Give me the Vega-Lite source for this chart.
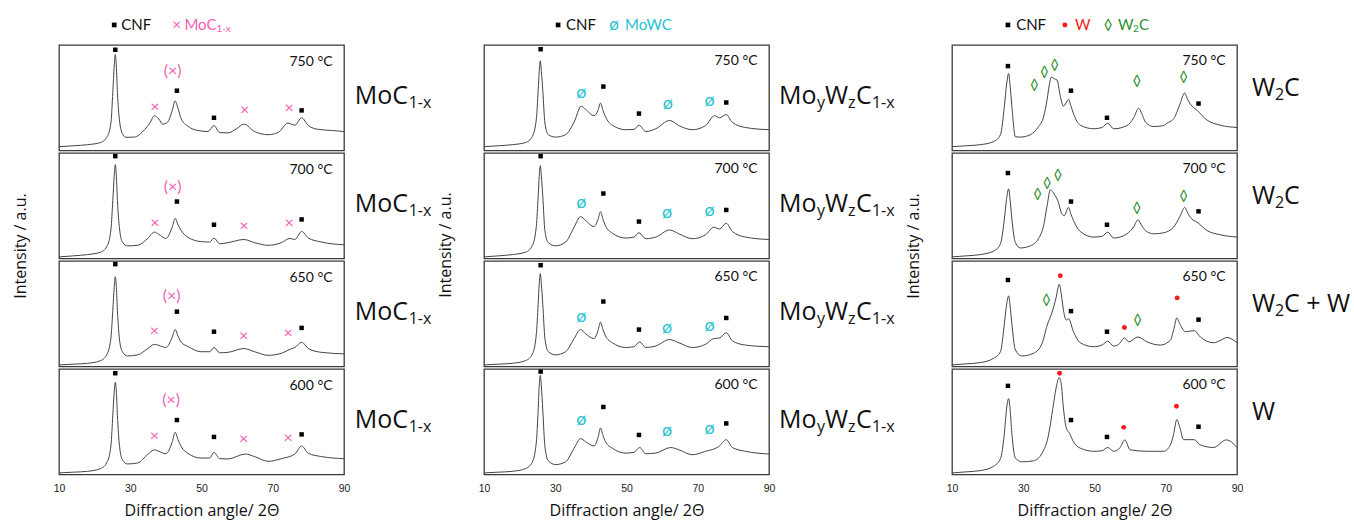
{
"$schema": "https://vega.github.io/schema/vega-lite/v6.json",
"padding": {"left": 12, "top": 15, "right": 0, "bottom": 3},
"autosize": {"type": "pad"},
"background": "white",
"config": {
 "font": "Lato",
 "view": {"stroke": "#3a3a3a", "strokeWidth": 1.3},
 "axis": {"grid": false, "domain": false, "ticks": false, "labelFont": "Liberation Sans", "labelFontSize": 10.5, "labelColor": "#222", "labelPadding": 7, "labelOverlap": false, "labelSeparation": -20, "labelBound": false, "labelFlush": false, "titleFont": "Open Sans", "titleFontSize": 16, "titleFontWeight": "normal", "titleColor": "#111", "titlePadding": 9},
 "header": {"labels": false, "titleFont": "Open Sans", "titleFontSize": 16, "titleFontWeight": "normal", "titleColor": "#111", "titleOrient": "left", "titlePadding": 17},
 "text": {"font": "Lato", "baseline": "middle"}
},
"datasets": {
"A": [
{"k":"T","t":750,"txt":"750 °C"},{"k":"T","t":700,"txt":"700 °C"},{"k":"T","t":650,"txt":"650 °C"},{"k":"T","t":600,"txt":"600 °C"},
{"k":"c","t":750,"x":10,"y":3.6},{"k":"c","t":750,"x":14,"y":4.5},{"k":"c","t":750,"x":18,"y":5.5},{"k":"c","t":750,"x":21.7,"y":7.6},{"k":"c","t":750,"x":23.6,"y":13.6},{"k":"c","t":750,"x":24.6,"y":27},{"k":"c","t":750,"x":25.1,"y":55},{"k":"c","t":750,"x":25.5,"y":80},{"k":"c","t":750,"x":25.8,"y":91},{"k":"c","t":750,"x":26.1,"y":80},{"k":"c","t":750,"x":26.4,"y":55},{"k":"c","t":750,"x":27,"y":28},{"k":"c","t":750,"x":27.8,"y":16},{"k":"c","t":750,"x":28.8,"y":12.5},{"k":"c","t":750,"x":31.1,"y":12.7},{"k":"c","t":750,"x":34,"y":19.7},{"k":"c","t":750,"x":35.5,"y":26},{"k":"c","t":750,"x":36.8,"y":33},{"k":"c","t":750,"x":38,"y":30},{"k":"c","t":750,"x":39.1,"y":25},{"k":"c","t":750,"x":40.5,"y":27},{"k":"c","t":750,"x":41.8,"y":38},{"k":"c","t":750,"x":42.6,"y":47},{"k":"c","t":750,"x":43.4,"y":40},{"k":"c","t":750,"x":44.3,"y":30},{"k":"c","t":750,"x":46.2,"y":23},{"k":"c","t":750,"x":49,"y":19},{"k":"c","t":750,"x":51.8,"y":18},{"k":"c","t":750,"x":53.5,"y":23.6},{"k":"c","t":750,"x":55.1,"y":17},{"k":"c","t":750,"x":57.4,"y":16.7},{"k":"c","t":750,"x":60,"y":21},{"k":"c","t":750,"x":61.9,"y":25},{"k":"c","t":750,"x":64.9,"y":18},{"k":"c","t":750,"x":68.7,"y":15},{"k":"c","t":750,"x":71.5,"y":17},{"k":"c","t":750,"x":74.3,"y":26},{"k":"c","t":750,"x":76.2,"y":24},{"k":"c","t":750,"x":78.1,"y":31},{"k":"c","t":750,"x":80,"y":23.6},{"k":"c","t":750,"x":82.8,"y":20},{"k":"c","t":750,"x":86.5,"y":19},{"k":"c","t":750,"x":90,"y":18},
{"k":"c","t":700,"x":10,"y":1.5},{"k":"c","t":700,"x":14,"y":2.5},{"k":"c","t":700,"x":18,"y":3.7},{"k":"c","t":700,"x":21.7,"y":6},{"k":"c","t":700,"x":23.6,"y":12.5},{"k":"c","t":700,"x":24.6,"y":28},{"k":"c","t":700,"x":25.1,"y":55},{"k":"c","t":700,"x":25.5,"y":78},{"k":"c","t":700,"x":25.8,"y":89},{"k":"c","t":700,"x":26.1,"y":78},{"k":"c","t":700,"x":26.4,"y":55},{"k":"c","t":700,"x":27,"y":28},{"k":"c","t":700,"x":27.8,"y":15.6},{"k":"c","t":700,"x":29.2,"y":12},{"k":"c","t":700,"x":32.1,"y":12.5},{"k":"c","t":700,"x":34.9,"y":19},{"k":"c","t":700,"x":36.8,"y":25},{"k":"c","t":700,"x":38,"y":23},{"k":"c","t":700,"x":40,"y":19},{"k":"c","t":700,"x":41.8,"y":30},{"k":"c","t":700,"x":42.6,"y":38},{"k":"c","t":700,"x":43.4,"y":32},{"k":"c","t":700,"x":44.3,"y":26.5},{"k":"c","t":700,"x":46.2,"y":20},{"k":"c","t":700,"x":49.9,"y":16},{"k":"c","t":700,"x":52.3,"y":15.6},{"k":"c","t":700,"x":53.5,"y":19.4},{"k":"c","t":700,"x":55.1,"y":14},{"k":"c","t":700,"x":57.4,"y":15},{"k":"c","t":700,"x":61.9,"y":18},{"k":"c","t":700,"x":64.9,"y":15},{"k":"c","t":700,"x":68.7,"y":12.5},{"k":"c","t":700,"x":72.4,"y":15},{"k":"c","t":700,"x":74.8,"y":19},{"k":"c","t":700,"x":76.2,"y":18},{"k":"c","t":700,"x":78.1,"y":25.6},{"k":"c","t":700,"x":80,"y":19.4},{"k":"c","t":700,"x":83.7,"y":15.6},{"k":"c","t":700,"x":90,"y":13},
{"k":"c","t":650,"x":10,"y":1.5},{"k":"c","t":650,"x":14,"y":2.2},{"k":"c","t":650,"x":18,"y":3},{"k":"c","t":650,"x":21.7,"y":5.6},{"k":"c","t":650,"x":23.6,"y":12.5},{"k":"c","t":650,"x":24.6,"y":28},{"k":"c","t":650,"x":25.1,"y":53},{"k":"c","t":650,"x":25.5,"y":75},{"k":"c","t":650,"x":25.8,"y":85},{"k":"c","t":650,"x":26.1,"y":75},{"k":"c","t":650,"x":26.4,"y":53},{"k":"c","t":650,"x":27,"y":25},{"k":"c","t":650,"x":27.8,"y":14},{"k":"c","t":650,"x":29.2,"y":10},{"k":"c","t":650,"x":32.1,"y":11},{"k":"c","t":650,"x":34.9,"y":17},{"k":"c","t":650,"x":36.8,"y":21},{"k":"c","t":650,"x":38,"y":20},{"k":"c","t":650,"x":40,"y":18},{"k":"c","t":650,"x":41.8,"y":28},{"k":"c","t":650,"x":42.6,"y":35},{"k":"c","t":650,"x":43.4,"y":29},{"k":"c","t":650,"x":44.3,"y":23},{"k":"c","t":650,"x":46.2,"y":19},{"k":"c","t":650,"x":49.9,"y":14},{"k":"c","t":650,"x":52.3,"y":14},{"k":"c","t":650,"x":53.5,"y":18},{"k":"c","t":650,"x":55.1,"y":13},{"k":"c","t":650,"x":57.4,"y":13.4},{"k":"c","t":650,"x":61.9,"y":17},{"k":"c","t":650,"x":64.9,"y":14},{"k":"c","t":650,"x":68.7,"y":10.6},{"k":"c","t":650,"x":72.4,"y":12.5},{"k":"c","t":650,"x":75.3,"y":17},{"k":"c","t":650,"x":76.2,"y":18},{"k":"c","t":650,"x":78.1,"y":23},{"k":"c","t":650,"x":80,"y":17},{"k":"c","t":650,"x":83.7,"y":13.4},{"k":"c","t":650,"x":90,"y":12},
{"k":"c","t":600,"x":10,"y":1.5},{"k":"c","t":600,"x":14,"y":2.2},{"k":"c","t":600,"x":18,"y":3},{"k":"c","t":600,"x":21.7,"y":5.6},{"k":"c","t":600,"x":23.6,"y":12.5},{"k":"c","t":600,"x":24.6,"y":28},{"k":"c","t":600,"x":25.1,"y":56},{"k":"c","t":600,"x":25.5,"y":78},{"k":"c","t":600,"x":25.8,"y":87.5},{"k":"c","t":600,"x":26.1,"y":78},{"k":"c","t":600,"x":26.4,"y":56},{"k":"c","t":600,"x":27,"y":26.5},{"k":"c","t":600,"x":27.8,"y":14},{"k":"c","t":600,"x":29.2,"y":10},{"k":"c","t":600,"x":32.1,"y":11},{"k":"c","t":600,"x":34.9,"y":19},{"k":"c","t":600,"x":36.8,"y":23.4},{"k":"c","t":600,"x":38,"y":22},{"k":"c","t":600,"x":40,"y":19.7},{"k":"c","t":600,"x":41.8,"y":31},{"k":"c","t":600,"x":42.6,"y":40},{"k":"c","t":600,"x":43.4,"y":33},{"k":"c","t":600,"x":44.3,"y":26.5},{"k":"c","t":600,"x":46.2,"y":20},{"k":"c","t":600,"x":49.9,"y":15.6},{"k":"c","t":600,"x":52.3,"y":15.6},{"k":"c","t":600,"x":53.5,"y":21},{"k":"c","t":600,"x":55.1,"y":15},{"k":"c","t":600,"x":57.4,"y":14.7},{"k":"c","t":600,"x":62.3,"y":19.4},{"k":"c","t":600,"x":64.9,"y":17},{"k":"c","t":600,"x":68.7,"y":12.5},{"k":"c","t":600,"x":72.4,"y":15},{"k":"c","t":600,"x":76.2,"y":19.4},{"k":"c","t":600,"x":78.1,"y":27},{"k":"c","t":600,"x":80,"y":20},{"k":"c","t":600,"x":83.7,"y":17},{"k":"c","t":600,"x":90,"y":15},
{"k":"m","t":750,"g":"CNF","x":25.8,"y":95.5},{"k":"m","t":750,"g":"MoCp","x":41.9,"y":75},{"k":"m","t":750,"g":"CNF","x":43.1,"y":56.7},{"k":"m","t":750,"g":"MoC","x":36.9,"y":41.5},{"k":"m","t":750,"g":"CNF","x":53.5,"y":31},{"k":"m","t":750,"g":"MoC","x":62.1,"y":38},{"k":"m","t":750,"g":"MoC","x":74.6,"y":40},{"k":"m","t":750,"g":"CNF","x":78.1,"y":38},
{"k":"m","t":700,"g":"CNF","x":25.8,"y":97},{"k":"m","t":700,"g":"MoCp","x":41.9,"y":68},{"k":"m","t":700,"g":"CNF","x":43.1,"y":54},{"k":"m","t":700,"g":"MoC","x":36.9,"y":34},{"k":"m","t":700,"g":"CNF","x":53.5,"y":32},{"k":"m","t":700,"g":"MoC","x":61.9,"y":30.6},{"k":"m","t":700,"g":"MoC","x":74.6,"y":34},{"k":"m","t":700,"g":"CNF","x":78.1,"y":37},
{"k":"m","t":650,"g":"CNF","x":25.8,"y":97},{"k":"m","t":650,"g":"MoCp","x":41.6,"y":67},{"k":"m","t":650,"g":"CNF","x":43.1,"y":52},{"k":"m","t":650,"g":"MoC","x":36.8,"y":33.4},{"k":"m","t":650,"g":"CNF","x":53.5,"y":33},{"k":"m","t":650,"g":"MoC","x":61.8,"y":29},{"k":"m","t":650,"g":"MoC","x":74.3,"y":32},{"k":"m","t":650,"g":"CNF","x":78.1,"y":36.6},
{"k":"m","t":600,"g":"CNF","x":25.8,"y":96},{"k":"m","t":600,"g":"MoCp","x":41.5,"y":71},{"k":"m","t":600,"g":"CNF","x":43.1,"y":51.6},{"k":"m","t":600,"g":"MoC","x":36.8,"y":36.6},{"k":"m","t":600,"g":"CNF","x":53.5,"y":35.6},{"k":"m","t":600,"g":"MoC","x":61.8,"y":33.4},{"k":"m","t":600,"g":"MoC","x":74.3,"y":35},{"k":"m","t":600,"g":"CNF","x":78.1,"y":38}
],
"B": [
{"k":"T","t":750,"txt":"750 °C"},{"k":"T","t":700,"txt":"700 °C"},{"k":"T","t":650,"txt":"650 °C"},{"k":"T","t":600,"txt":"600 °C"},
{"k":"c","t":750,"x":10,"y":3.6},{"k":"c","t":750,"x":14,"y":4.5},{"k":"c","t":750,"x":17.95,"y":5.5},{"k":"c","t":750,"x":21.7,"y":7.6},{"k":"c","t":750,"x":23.6,"y":13.6},{"k":"c","t":750,"x":24.7,"y":30},{"k":"c","t":750,"x":25.2,"y":57},{"k":"c","t":750,"x":25.5,"y":75},{"k":"c","t":750,"x":25.8,"y":85},{"k":"c","t":750,"x":26.1,"y":75},{"k":"c","t":750,"x":26.5,"y":57},{"k":"c","t":750,"x":27.1,"y":26},{"k":"c","t":750,"x":28.05,"y":15},{"k":"c","t":750,"x":30.1,"y":12.7},{"k":"c","t":750,"x":32.9,"y":15},{"k":"c","t":750,"x":35.3,"y":27},{"k":"c","t":750,"x":37.3,"y":42},{"k":"c","t":750,"x":38.5,"y":39},{"k":"c","t":750,"x":40.9,"y":33},{"k":"c","t":750,"x":42,"y":38},{"k":"c","t":750,"x":42.7,"y":45},{"k":"c","t":750,"x":43.4,"y":38},{"k":"c","t":750,"x":44.1,"y":32},{"k":"c","t":750,"x":46,"y":24},{"k":"c","t":750,"x":49.8,"y":19.7},{"k":"c","t":750,"x":52.1,"y":20},{"k":"c","t":750,"x":53.5,"y":24},{"k":"c","t":750,"x":55.4,"y":18},{"k":"c","t":750,"x":58.2,"y":20.6},{"k":"c","t":750,"x":62.1,"y":28.5},{"k":"c","t":750,"x":64.7,"y":23.6},{"k":"c","t":750,"x":68.5,"y":19.7},{"k":"c","t":750,"x":72.2,"y":23.6},{"k":"c","t":750,"x":74.7,"y":33},{"k":"c","t":750,"x":76.1,"y":31},{"k":"c","t":750,"x":78,"y":34},{"k":"c","t":750,"x":79.7,"y":26.7},{"k":"c","t":750,"x":83.4,"y":21.8},{"k":"c","t":750,"x":90,"y":19.7},
{"k":"c","t":700,"x":10,"y":1.5},{"k":"c","t":700,"x":14,"y":2.5},{"k":"c","t":700,"x":17.95,"y":3.7},{"k":"c","t":700,"x":21.7,"y":6},{"k":"c","t":700,"x":23.6,"y":12.5},{"k":"c","t":700,"x":24.7,"y":31},{"k":"c","t":700,"x":25.2,"y":59},{"k":"c","t":700,"x":25.5,"y":78},{"k":"c","t":700,"x":25.8,"y":88},{"k":"c","t":700,"x":26.1,"y":78},{"k":"c","t":700,"x":26.5,"y":59},{"k":"c","t":700,"x":27.1,"y":26.5},{"k":"c","t":700,"x":28.05,"y":15},{"k":"c","t":700,"x":30.1,"y":12},{"k":"c","t":700,"x":32.9,"y":15.6},{"k":"c","t":700,"x":35.3,"y":29.7},{"k":"c","t":700,"x":37.1,"y":39.7},{"k":"c","t":700,"x":38.5,"y":36},{"k":"c","t":700,"x":40.9,"y":30.3},{"k":"c","t":700,"x":42,"y":37},{"k":"c","t":700,"x":42.7,"y":44.4},{"k":"c","t":700,"x":43.4,"y":37},{"k":"c","t":700,"x":44.1,"y":31},{"k":"c","t":700,"x":46,"y":24},{"k":"c","t":700,"x":49.8,"y":19.4},{"k":"c","t":700,"x":52.1,"y":20.3},{"k":"c","t":700,"x":53.5,"y":24.4},{"k":"c","t":700,"x":55.4,"y":18.75},{"k":"c","t":700,"x":58.2,"y":20.3},{"k":"c","t":700,"x":62.1,"y":27},{"k":"c","t":700,"x":64.7,"y":23.4},{"k":"c","t":700,"x":68.5,"y":18.75},{"k":"c","t":700,"x":72.2,"y":22.5},{"k":"c","t":700,"x":74.5,"y":29.7},{"k":"c","t":700,"x":76.1,"y":28},{"k":"c","t":700,"x":78,"y":33.4},{"k":"c","t":700,"x":79.7,"y":25.6},{"k":"c","t":700,"x":83.4,"y":20.3},{"k":"c","t":700,"x":90,"y":18},
{"k":"c","t":650,"x":10,"y":1.5},{"k":"c","t":650,"x":14,"y":2.2},{"k":"c","t":650,"x":17.95,"y":3},{"k":"c","t":650,"x":21.7,"y":5.6},{"k":"c","t":650,"x":23.6,"y":12},{"k":"c","t":650,"x":24.7,"y":31},{"k":"c","t":650,"x":25.2,"y":59},{"k":"c","t":650,"x":25.5,"y":78},{"k":"c","t":650,"x":25.8,"y":88},{"k":"c","t":650,"x":26.1,"y":78},{"k":"c","t":650,"x":26.5,"y":59},{"k":"c","t":650,"x":27.1,"y":26.5},{"k":"c","t":650,"x":28.05,"y":14},{"k":"c","t":650,"x":30.1,"y":11},{"k":"c","t":650,"x":32.9,"y":14},{"k":"c","t":650,"x":35.3,"y":26.5},{"k":"c","t":650,"x":37.1,"y":35},{"k":"c","t":650,"x":38.5,"y":31},{"k":"c","t":650,"x":40.9,"y":26.5},{"k":"c","t":650,"x":42,"y":34},{"k":"c","t":650,"x":42.7,"y":42},{"k":"c","t":650,"x":43.4,"y":35},{"k":"c","t":650,"x":44.1,"y":29},{"k":"c","t":650,"x":46,"y":22.5},{"k":"c","t":650,"x":49.8,"y":18},{"k":"c","t":650,"x":52.1,"y":18.75},{"k":"c","t":650,"x":53.7,"y":23.4},{"k":"c","t":650,"x":55.4,"y":18},{"k":"c","t":650,"x":58.2,"y":19.4},{"k":"c","t":650,"x":62.1,"y":25.6},{"k":"c","t":650,"x":64.7,"y":22.5},{"k":"c","t":650,"x":68.5,"y":18},{"k":"c","t":650,"x":72.2,"y":21},{"k":"c","t":650,"x":74.5,"y":26.5},{"k":"c","t":650,"x":76.1,"y":27},{"k":"c","t":650,"x":78,"y":32},{"k":"c","t":650,"x":79.7,"y":24.4},{"k":"c","t":650,"x":83.4,"y":20.3},{"k":"c","t":650,"x":90,"y":18.75},
{"k":"c","t":600,"x":10,"y":1.5},{"k":"c","t":600,"x":14,"y":2.2},{"k":"c","t":600,"x":17.95,"y":3},{"k":"c","t":600,"x":21.7,"y":5.6},{"k":"c","t":600,"x":23.6,"y":12},{"k":"c","t":600,"x":24.7,"y":31},{"k":"c","t":600,"x":25.2,"y":61},{"k":"c","t":600,"x":25.5,"y":84},{"k":"c","t":600,"x":25.8,"y":94},{"k":"c","t":600,"x":26.1,"y":84},{"k":"c","t":600,"x":26.5,"y":61},{"k":"c","t":600,"x":27.1,"y":26.5},{"k":"c","t":600,"x":28.05,"y":13},{"k":"c","t":600,"x":30.1,"y":9.4},{"k":"c","t":600,"x":32.9,"y":12},{"k":"c","t":600,"x":35.3,"y":25},{"k":"c","t":600,"x":37.1,"y":34},{"k":"c","t":600,"x":38.5,"y":31},{"k":"c","t":600,"x":40.9,"y":27},{"k":"c","t":600,"x":42,"y":35},{"k":"c","t":600,"x":42.7,"y":44},{"k":"c","t":600,"x":43.4,"y":37},{"k":"c","t":600,"x":44.1,"y":31},{"k":"c","t":600,"x":46,"y":25},{"k":"c","t":600,"x":49.8,"y":20.3},{"k":"c","t":600,"x":52.1,"y":21},{"k":"c","t":600,"x":53.7,"y":25.6},{"k":"c","t":600,"x":55.4,"y":19.7},{"k":"c","t":600,"x":58.2,"y":20.3},{"k":"c","t":600,"x":62.4,"y":25.6},{"k":"c","t":600,"x":64.7,"y":23.4},{"k":"c","t":600,"x":68.5,"y":18.75},{"k":"c","t":600,"x":72.2,"y":22},{"k":"c","t":600,"x":75.9,"y":26.5},{"k":"c","t":600,"x":78,"y":33},{"k":"c","t":600,"x":79.7,"y":25.6},{"k":"c","t":600,"x":83.4,"y":22},{"k":"c","t":600,"x":90,"y":19.4},
{"k":"m","t":750,"g":"CNF","x":25.9,"y":96},{"k":"m","t":750,"g":"MoWC","x":37.3,"y":54.5},{"k":"m","t":750,"g":"CNF","x":43.5,"y":60.6},{"k":"m","t":750,"g":"CNF","x":53.5,"y":35},{"k":"m","t":750,"g":"MoWC","x":61.6,"y":44.5},{"k":"m","t":750,"g":"MoWC","x":73.3,"y":47},{"k":"m","t":750,"g":"CNF","x":78,"y":45.5},
{"k":"m","t":700,"g":"CNF","x":25.9,"y":97},{"k":"m","t":700,"g":"MoWC","x":37.3,"y":53},{"k":"m","t":700,"g":"CNF","x":43.5,"y":61.6},{"k":"m","t":700,"g":"CNF","x":53.5,"y":35},{"k":"m","t":700,"g":"MoWC","x":61.4,"y":43},{"k":"m","t":700,"g":"MoWC","x":73.3,"y":44.7},{"k":"m","t":700,"g":"CNF","x":78,"y":46},
{"k":"m","t":650,"g":"CNF","x":25.9,"y":96},{"k":"m","t":650,"g":"MoWC","x":37.3,"y":47},{"k":"m","t":650,"g":"CNF","x":43.5,"y":61.6},{"k":"m","t":650,"g":"CNF","x":53.5,"y":35},{"k":"m","t":650,"g":"MoWC","x":61.4,"y":36.6},{"k":"m","t":650,"g":"MoWC","x":73.3,"y":38},{"k":"m","t":650,"g":"CNF","x":78,"y":46},
{"k":"m","t":600,"g":"CNF","x":25.9,"y":97.5},{"k":"m","t":600,"g":"MoWC","x":37.3,"y":51.6},{"k":"m","t":600,"g":"CNF","x":43.5,"y":64},{"k":"m","t":600,"g":"CNF","x":53.5,"y":37.5},{"k":"m","t":600,"g":"MoWC","x":61.4,"y":41.6},{"k":"m","t":600,"g":"MoWC","x":73.3,"y":43},{"k":"m","t":600,"g":"CNF","x":78,"y":48.4}
],
"C": [
{"k":"T","t":750,"txt":"750 °C","p1":"W","p2":"2","p3":"C"},{"k":"T","t":700,"txt":"700 °C","p1":"W","p2":"2","p3":"C"},{"k":"T","t":650,"txt":"650 °C","p1":"W","p2":"2","p3":"C + W"},{"k":"T","t":600,"txt":"600 °C","p1":"W","p2":"","p3":""},
{"k":"c","t":750,"x":10,"y":3.6},{"k":"c","t":750,"x":14,"y":4.5},{"k":"c","t":750,"x":17.95,"y":5.5},{"k":"c","t":750,"x":21.7,"y":8.5},{"k":"c","t":750,"x":23.6,"y":15},{"k":"c","t":750,"x":24.7,"y":42},{"k":"c","t":750,"x":25.3,"y":62},{"k":"c","t":750,"x":25.9,"y":73},{"k":"c","t":750,"x":26.3,"y":62},{"k":"c","t":750,"x":26.8,"y":42},{"k":"c","t":750,"x":27.8,"y":13},{"k":"c","t":750,"x":29.2,"y":12.7},{"k":"c","t":750,"x":32,"y":15},{"k":"c","t":750,"x":34.3,"y":22.7},{"k":"c","t":750,"x":35.7,"y":31.8},{"k":"c","t":750,"x":36.7,"y":48.5},{"k":"c","t":750,"x":37.3,"y":62},{"k":"c","t":750,"x":37.9,"y":69.7},{"k":"c","t":750,"x":38.7,"y":68},{"k":"c","t":750,"x":39.5,"y":66.7},{"k":"c","t":750,"x":40.4,"y":51.5},{"k":"c","t":750,"x":41.3,"y":42},{"k":"c","t":750,"x":42,"y":45},{"k":"c","t":750,"x":42.7,"y":48.5},{"k":"c","t":750,"x":43.4,"y":42},{"k":"c","t":750,"x":44.1,"y":35},{"k":"c","t":750,"x":46,"y":24},{"k":"c","t":750,"x":49.8,"y":20.6},{"k":"c","t":750,"x":52.1,"y":21.8},{"k":"c","t":750,"x":53.7,"y":25.8},{"k":"c","t":750,"x":55.4,"y":20.6},{"k":"c","t":750,"x":59.1,"y":23.6},{"k":"c","t":750,"x":61,"y":31},{"k":"c","t":750,"x":62.4,"y":40},{"k":"c","t":750,"x":63.5,"y":33},{"k":"c","t":750,"x":64.3,"y":27},{"k":"c","t":750,"x":66.6,"y":22.7},{"k":"c","t":750,"x":69.4,"y":23.6},{"k":"c","t":750,"x":70.3,"y":25.8},{"k":"c","t":750,"x":72.2,"y":30},{"k":"c","t":750,"x":74,"y":44},{"k":"c","t":750,"x":75.3,"y":54.5},{"k":"c","t":750,"x":76.2,"y":48},{"k":"c","t":750,"x":76.9,"y":44},{"k":"c","t":750,"x":78.8,"y":38},{"k":"c","t":750,"x":81.6,"y":28.8},{"k":"c","t":750,"x":85.3,"y":24},{"k":"c","t":750,"x":90,"y":21.8},
{"k":"c","t":700,"x":10,"y":1.5},{"k":"c","t":700,"x":14,"y":2.5},{"k":"c","t":700,"x":17.95,"y":3.7},{"k":"c","t":700,"x":21.7,"y":7},{"k":"c","t":700,"x":23.6,"y":14},{"k":"c","t":700,"x":24.7,"y":37.5},{"k":"c","t":700,"x":25.3,"y":56},{"k":"c","t":700,"x":25.9,"y":66},{"k":"c","t":700,"x":26.3,"y":56},{"k":"c","t":700,"x":26.8,"y":37.5},{"k":"c","t":700,"x":27.8,"y":15},{"k":"c","t":700,"x":29.2,"y":10},{"k":"c","t":700,"x":32,"y":12},{"k":"c","t":700,"x":34.3,"y":19},{"k":"c","t":700,"x":35.7,"y":31},{"k":"c","t":700,"x":36.7,"y":50},{"k":"c","t":700,"x":37.6,"y":65},{"k":"c","t":700,"x":38.7,"y":61},{"k":"c","t":700,"x":39.7,"y":54.7},{"k":"c","t":700,"x":40.9,"y":42},{"k":"c","t":700,"x":41.5,"y":40.6},{"k":"c","t":700,"x":42.7,"y":48.4},{"k":"c","t":700,"x":43.4,"y":42},{"k":"c","t":700,"x":44.1,"y":36},{"k":"c","t":700,"x":46,"y":25.6},{"k":"c","t":700,"x":49.8,"y":20.3},{"k":"c","t":700,"x":52.1,"y":21},{"k":"c","t":700,"x":53.7,"y":25},{"k":"c","t":700,"x":55.4,"y":19.4},{"k":"c","t":700,"x":59.1,"y":23.4},{"k":"c","t":700,"x":61,"y":30},{"k":"c","t":700,"x":62.2,"y":36.6},{"k":"c","t":700,"x":63.3,"y":31},{"k":"c","t":700,"x":64.3,"y":26.5},{"k":"c","t":700,"x":66.6,"y":23.4},{"k":"c","t":700,"x":69.4,"y":24.4},{"k":"c","t":700,"x":72.2,"y":29.7},{"k":"c","t":700,"x":74,"y":40},{"k":"c","t":700,"x":75.3,"y":48.4},{"k":"c","t":700,"x":76.2,"y":43},{"k":"c","t":700,"x":76.9,"y":39},{"k":"c","t":700,"x":78.8,"y":34.4},{"k":"c","t":700,"x":81.6,"y":26.5},{"k":"c","t":700,"x":85.3,"y":22.5},{"k":"c","t":700,"x":90,"y":20.3},
{"k":"c","t":650,"x":10,"y":1.5},{"k":"c","t":650,"x":14,"y":2.5},{"k":"c","t":650,"x":17.95,"y":3.7},{"k":"c","t":650,"x":21.7,"y":7.8},{"k":"c","t":650,"x":23.6,"y":14},{"k":"c","t":650,"x":24.7,"y":40.6},{"k":"c","t":650,"x":25.3,"y":58},{"k":"c","t":650,"x":25.9,"y":67},{"k":"c","t":650,"x":26.3,"y":58},{"k":"c","t":650,"x":26.8,"y":40.6},{"k":"c","t":650,"x":27.8,"y":15.6},{"k":"c","t":650,"x":29.6,"y":10},{"k":"c","t":650,"x":32.9,"y":12.5},{"k":"c","t":650,"x":35.3,"y":22},{"k":"c","t":650,"x":36.7,"y":39},{"k":"c","t":650,"x":38.1,"y":51.6},{"k":"c","t":650,"x":39.2,"y":65},{"k":"c","t":650,"x":40.1,"y":78},{"k":"c","t":650,"x":40.7,"y":68},{"k":"c","t":650,"x":41.3,"y":53},{"k":"c","t":650,"x":42.1,"y":44},{"k":"c","t":650,"x":42.7,"y":45.3},{"k":"c","t":650,"x":44.1,"y":33},{"k":"c","t":650,"x":46,"y":22.5},{"k":"c","t":650,"x":49.8,"y":18.75},{"k":"c","t":650,"x":52.1,"y":20.3},{"k":"c","t":650,"x":53.7,"y":24},{"k":"c","t":650,"x":55.4,"y":19.4},{"k":"c","t":650,"x":56.8,"y":21},{"k":"c","t":650,"x":58.4,"y":27},{"k":"c","t":650,"x":59.6,"y":23.4},{"k":"c","t":650,"x":62.2,"y":28},{"k":"c","t":650,"x":64.7,"y":23.4},{"k":"c","t":650,"x":68.5,"y":20.3},{"k":"c","t":650,"x":71.3,"y":25},{"k":"c","t":650,"x":72.3,"y":36},{"k":"c","t":650,"x":73.1,"y":46},{"k":"c","t":650,"x":74,"y":40},{"k":"c","t":650,"x":75.5,"y":33},{"k":"c","t":650,"x":78,"y":34},{"k":"c","t":650,"x":79.7,"y":28},{"k":"c","t":650,"x":83.4,"y":22.5},{"k":"c","t":650,"x":85.5,"y":25},{"k":"c","t":650,"x":87.2,"y":27.5},{"k":"c","t":650,"x":90,"y":22.5},
{"k":"c","t":600,"x":10,"y":1.5},{"k":"c","t":600,"x":14,"y":2.5},{"k":"c","t":600,"x":17.95,"y":3.7},{"k":"c","t":600,"x":21.7,"y":7.8},{"k":"c","t":600,"x":23.6,"y":15},{"k":"c","t":600,"x":24.7,"y":39},{"k":"c","t":600,"x":25.3,"y":62},{"k":"c","t":600,"x":25.9,"y":72},{"k":"c","t":600,"x":26.3,"y":62},{"k":"c","t":600,"x":26.8,"y":39},{"k":"c","t":600,"x":27.8,"y":15.6},{"k":"c","t":600,"x":29.6,"y":12},{"k":"c","t":600,"x":32.9,"y":13},{"k":"c","t":600,"x":35.3,"y":20.3},{"k":"c","t":600,"x":37.1,"y":37.5},{"k":"c","t":600,"x":38.3,"y":62.5},{"k":"c","t":600,"x":39.4,"y":85},{"k":"c","t":600,"x":40.1,"y":92},{"k":"c","t":600,"x":40.7,"y":85},{"k":"c","t":600,"x":41.2,"y":65.6},{"k":"c","t":600,"x":42.1,"y":43.75},{"k":"c","t":600,"x":43,"y":39},{"k":"c","t":600,"x":44.1,"y":31},{"k":"c","t":600,"x":46,"y":25},{"k":"c","t":600,"x":49.8,"y":22},{"k":"c","t":600,"x":52.1,"y":22.5},{"k":"c","t":600,"x":53.7,"y":25.6},{"k":"c","t":600,"x":55.4,"y":22},{"k":"c","t":600,"x":57.2,"y":25.6},{"k":"c","t":600,"x":58.5,"y":32.8},{"k":"c","t":600,"x":60,"y":23.4},{"k":"c","t":600,"x":64.7,"y":22},{"k":"c","t":600,"x":69.4,"y":22},{"k":"c","t":600,"x":71.3,"y":28},{"k":"c","t":600,"x":72.2,"y":38},{"k":"c","t":600,"x":73.1,"y":52},{"k":"c","t":600,"x":74,"y":44},{"k":"c","t":600,"x":75,"y":33},{"k":"c","t":600,"x":78,"y":33},{"k":"c","t":600,"x":79.7,"y":28},{"k":"c","t":600,"x":83.4,"y":25.6},{"k":"c","t":600,"x":87,"y":32.8},{"k":"c","t":600,"x":90,"y":25.6},
{"k":"m","t":750,"g":"CNF","x":25.7,"y":80},{"k":"m","t":750,"g":"W2C","x":33.1,"y":62},{"k":"m","t":750,"g":"W2C","x":35.9,"y":74},{"k":"m","t":750,"g":"W2C","x":38.8,"y":81},{"k":"m","t":750,"g":"CNF","x":43.4,"y":56.7},{"k":"m","t":750,"g":"CNF","x":53.5,"y":31},{"k":"m","t":750,"g":"W2C","x":61.9,"y":66},{"k":"m","t":750,"g":"W2C","x":75,"y":70},{"k":"m","t":750,"g":"CNF","x":79.2,"y":44.5},
{"k":"m","t":700,"g":"CNF","x":25.7,"y":81},{"k":"m","t":700,"g":"W2C","x":34,"y":61},{"k":"m","t":700,"g":"W2C","x":36.7,"y":72},{"k":"m","t":700,"g":"W2C","x":39.7,"y":79},{"k":"m","t":700,"g":"CNF","x":43.4,"y":54},{"k":"m","t":700,"g":"CNF","x":53.5,"y":32},{"k":"m","t":700,"g":"W2C","x":61.9,"y":47.5},{"k":"m","t":700,"g":"W2C","x":75,"y":59.4},{"k":"m","t":700,"g":"CNF","x":79.2,"y":44.7},
{"k":"m","t":650,"g":"CNF","x":25.7,"y":82},{"k":"m","t":650,"g":"W2C","x":36.5,"y":63},{"k":"m","t":650,"g":"W","x":40.4,"y":86},{"k":"m","t":650,"g":"CNF","x":43.4,"y":52.5},{"k":"m","t":650,"g":"CNF","x":53.5,"y":33},{"k":"m","t":650,"g":"W","x":58.4,"y":37},{"k":"m","t":650,"g":"W2C","x":62.1,"y":44},{"k":"m","t":650,"g":"W","x":73.2,"y":65},{"k":"m","t":650,"g":"CNF","x":79.2,"y":44.4},
{"k":"m","t":600,"g":"CNF","x":25.7,"y":84},{"k":"m","t":600,"g":"W","x":40.2,"y":96},{"k":"m","t":600,"g":"CNF","x":43.4,"y":51.6},{"k":"m","t":600,"g":"CNF","x":53.5,"y":35.6},{"k":"m","t":600,"g":"W","x":58.2,"y":44.7},{"k":"m","t":600,"g":"W","x":73,"y":64.7},{"k":"m","t":600,"g":"CNF","x":79.2,"y":45.3}
]
},
"spacing": 9,
"hconcat": [
{"spacing": 4, "hconcat": [
{
 "data": {"name": "A"},
 "facet": {"row": {"field": "t", "type": "ordinal", "sort": "descending", "title": "Intensity / a.u."}},
 "spacing": 0,
 "spec": {
  "width": 285, "height": 105.5,
  "layer": [
   {"transform": [{"filter": "datum.k=='c'"}], "mark": {"type": "line", "color": "#444", "strokeWidth": 1, "interpolate": "monotone"},
    "encoding": {"x": {"field": "x", "type": "quantitative", "scale": {"domain": [10, 90], "nice": false}, "axis": {"title": "Diffraction angle/ 2Θ", "values": [10,20,30,40,50,60,70,80,90], "labelOverlap": false, "labelSeparation": -20}}, "y": {"field": "y", "type": "quantitative", "scale": {"domain": [0, 100], "nice": false}, "axis": null}}},
   {"transform": [{"filter": "datum.g=='CNF'"}], "mark": {"type": "point", "shape": "square", "filled": true, "size": 20, "color": "#000", "opacity": 1}, "encoding": {"x": {"field": "x", "type": "quantitative"}, "y": {"field": "y", "type": "quantitative"}}},
   {"transform": [{"filter": "datum.g=='MoC'"}], "mark": {"type": "text", "fontSize": 16, "color": "#f45fb3"}, "encoding": {"x": {"field": "x", "type": "quantitative"}, "y": {"field": "y", "type": "quantitative"}, "text": {"value": "×"}}},
   {"transform": [{"filter": "datum.g=='MoCp'"}], "mark": {"type": "text", "fontSize": 16, "color": "#f45fb3"}, "encoding": {"x": {"field": "x", "type": "quantitative"}, "y": {"field": "y", "type": "quantitative"}, "text": {"value": "(×)"}}},
   {"transform": [{"filter": "datum.k=='T'"}], "mark": {"type": "text", "fontSize": 14, "align": "right", "color": "#111"}, "encoding": {"x": {"datum": 86.8}, "y": {"datum": 84}, "text": {"field": "txt"}}},
   {"transform": [{"filter": "datum.k=='T'"}], "mark": {"type": "text", "font": "Open Sans", "fontSize": 25, "align": "left", "color": "#111"}, "encoding": {"x": {"datum": 93}, "y": {"datum": 52}, "text": {"value": "MoC"}}},
   {"transform": [{"filter": "datum.k=='T'"}], "mark": {"type": "text", "font": "Open Sans", "fontSize": 16, "align": "left", "color": "#111", "dx": 54, "dy": 7}, "encoding": {"x": {"datum": 93}, "y": {"datum": 52}, "text": {"value": "1-x"}}},
   {"transform": [{"filter": "datum.k=='T' && datum.t==750"}], "mark": {"type": "point", "shape": "square", "filled": true, "size": 22, "color": "#000", "opacity": 1}, "encoding": {"x": {"datum": 25.5}, "y": {"datum": 119}}},
   {"transform": [{"filter": "datum.k=='T' && datum.t==750"}], "mark": {"type": "text", "fontSize": 15, "align": "left", "color": "#111"}, "encoding": {"x": {"datum": 27.5}, "y": {"datum": 119}, "text": {"value": "CNF"}}},
   {"transform": [{"filter": "datum.k=='T' && datum.t==750"}], "mark": {"type": "text", "fontSize": 15, "color": "#f45fb3"}, "encoding": {"x": {"datum": 43}, "y": {"datum": 119}, "text": {"value": "×"}}},
   {"transform": [{"filter": "datum.k=='T' && datum.t==750"}], "mark": {"type": "text", "fontSize": 15, "align": "left", "color": "#f45fb3"}, "encoding": {"x": {"datum": 45.2}, "y": {"datum": 119}, "text": {"value": "MoC"}}},
   {"transform": [{"filter": "datum.k=='T' && datum.t==750"}], "mark": {"type": "text", "fontSize": 10, "align": "left", "color": "#f45fb3", "dx": 32, "dy": 4}, "encoding": {"x": {"datum": 45.2}, "y": {"datum": 119}, "text": {"value": "1-x"}}}
  ]
 }
},
{
 "data": {"name": "B"},
 "facet": {"row": {"field": "t", "type": "ordinal", "sort": "descending", "title": "Intensity / a.u."}},
 "spacing": 0,
 "spec": {
  "width": 285, "height": 105.5,
  "layer": [
   {"transform": [{"filter": "datum.k=='c'"}], "mark": {"type": "line", "color": "#444", "strokeWidth": 1, "interpolate": "monotone"},
    "encoding": {"x": {"field": "x", "type": "quantitative", "scale": {"domain": [10, 90], "nice": false}, "axis": {"title": "Diffraction angle/ 2Θ", "values": [10,20,30,40,50,60,70,80,90], "labelOverlap": false, "labelSeparation": -20}}, "y": {"field": "y", "type": "quantitative", "scale": {"domain": [0, 100], "nice": false}, "axis": null}}},
   {"transform": [{"filter": "datum.g=='CNF'"}], "mark": {"type": "point", "shape": "square", "filled": true, "size": 20, "color": "#000", "opacity": 1}, "encoding": {"x": {"field": "x", "type": "quantitative"}, "y": {"field": "y", "type": "quantitative"}}},
   {"transform": [{"filter": "datum.g=='MoWC'"}], "mark": {"type": "text", "fontSize": 18, "color": "#1fc3cf"}, "encoding": {"x": {"field": "x", "type": "quantitative"}, "y": {"field": "y", "type": "quantitative"}, "text": {"value": "ø"}}},
   {"transform": [{"filter": "datum.k=='T'"}], "mark": {"type": "text", "fontSize": 14, "align": "right", "color": "#111"}, "encoding": {"x": {"datum": 86.8}, "y": {"datum": 85}, "text": {"field": "txt"}}},
   {"transform": [{"filter": "datum.k=='T'"}], "mark": {"type": "text", "font": "Open Sans", "fontSize": 25, "align": "left", "color": "#111"}, "encoding": {"x": {"datum": 92.8}, "y": {"datum": 52}, "text": {"value": "Mo"}}},
   {"transform": [{"filter": "datum.k=='T'"}], "mark": {"type": "text", "font": "Open Sans", "fontSize": 16, "align": "left", "color": "#111", "dx": 38, "dy": 7}, "encoding": {"x": {"datum": 92.8}, "y": {"datum": 52}, "text": {"value": "y"}}},
   {"transform": [{"filter": "datum.k=='T'"}], "mark": {"type": "text", "font": "Open Sans", "fontSize": 25, "align": "left", "color": "#111", "dx": 46}, "encoding": {"x": {"datum": 92.8}, "y": {"datum": 52}, "text": {"value": "W"}}},
   {"transform": [{"filter": "datum.k=='T'"}], "mark": {"type": "text", "font": "Open Sans", "fontSize": 16, "align": "left", "color": "#111", "dx": 69, "dy": 7}, "encoding": {"x": {"datum": 92.8}, "y": {"datum": 52}, "text": {"value": "z"}}},
   {"transform": [{"filter": "datum.k=='T'"}], "mark": {"type": "text", "font": "Open Sans", "fontSize": 25, "align": "left", "color": "#111", "dx": 77}, "encoding": {"x": {"datum": 92.8}, "y": {"datum": 52}, "text": {"value": "C"}}},
   {"transform": [{"filter": "datum.k=='T'"}], "mark": {"type": "text", "font": "Open Sans", "fontSize": 16, "align": "left", "color": "#111", "dx": 93, "dy": 7}, "encoding": {"x": {"datum": 92.8}, "y": {"datum": 52}, "text": {"value": "1-x"}}},
   {"transform": [{"filter": "datum.k=='T' && datum.t==750"}], "mark": {"type": "point", "shape": "square", "filled": true, "size": 22, "color": "#000", "opacity": 1}, "encoding": {"x": {"datum": 30.8}, "y": {"datum": 119}}},
   {"transform": [{"filter": "datum.k=='T' && datum.t==750"}], "mark": {"type": "text", "fontSize": 15, "align": "left", "color": "#111"}, "encoding": {"x": {"datum": 33}, "y": {"datum": 119}, "text": {"value": "CNF"}}},
   {"transform": [{"filter": "datum.k=='T' && datum.t==750"}], "mark": {"type": "text", "fontSize": 17, "color": "#1fc3cf"}, "encoding": {"x": {"datum": 46.5}, "y": {"datum": 119}, "text": {"value": "ø"}}},
   {"transform": [{"filter": "datum.k=='T' && datum.t==750"}], "mark": {"type": "text", "fontSize": 15, "align": "left", "color": "#1fc3cf"}, "encoding": {"x": {"datum": 49.6}, "y": {"datum": 119}, "text": {"value": "MoWC"}}}
  ]
 }
}
]},
{
 "data": {"name": "C"},
 "facet": {"row": {"field": "t", "type": "ordinal", "sort": "descending", "title": "Intensity / a.u."}},
 "spacing": 0,
 "spec": {
  "width": 285, "height": 105.5,
  "layer": [
   {"transform": [{"filter": "datum.k=='c'"}], "mark": {"type": "line", "color": "#444", "strokeWidth": 1, "interpolate": "monotone"},
    "encoding": {"x": {"field": "x", "type": "quantitative", "scale": {"domain": [10, 90], "nice": false}, "axis": {"title": "Diffraction angle/ 2Θ", "values": [10,20,30,40,50,60,70,80,90], "labelOverlap": false, "labelSeparation": -20}}, "y": {"field": "y", "type": "quantitative", "scale": {"domain": [0, 100], "nice": false}, "axis": null}}},
   {"transform": [{"filter": "datum.g=='CNF'"}], "mark": {"type": "point", "shape": "square", "filled": true, "size": 20, "color": "#000", "opacity": 1}, "encoding": {"x": {"field": "x", "type": "quantitative"}, "y": {"field": "y", "type": "quantitative"}}},
   {"transform": [{"filter": "datum.g=='W'"}], "mark": {"type": "point", "shape": "circle", "filled": true, "size": 24, "color": "#ff1a1a", "opacity": 1}, "encoding": {"x": {"field": "x", "type": "quantitative"}, "y": {"field": "y", "type": "quantitative"}}},
   {"transform": [{"filter": "datum.g=='W2C'"}], "mark": {"type": "text", "fontSize": 15, "color": "#2f8f2f"}, "encoding": {"x": {"field": "x", "type": "quantitative"}, "y": {"field": "y", "type": "quantitative"}, "text": {"value": "◊"}}},
   {"transform": [{"filter": "datum.k=='T'"}], "mark": {"type": "text", "fontSize": 14, "align": "right", "color": "#111"}, "encoding": {"x": {"datum": 86.8}, "y": {"datum": 85}, "text": {"field": "txt"}}},
   {"transform": [{"filter": "datum.k=='T'"}], "mark": {"type": "text", "font": "Open Sans", "fontSize": 25, "align": "left", "color": "#111"}, "encoding": {"x": {"datum": 94.2}, "y": {"datum": 59}, "text": {"field": "p1"}}},
   {"transform": [{"filter": "datum.k=='T'"}], "mark": {"type": "text", "font": "Open Sans", "fontSize": 16, "align": "left", "color": "#111", "dx": 23, "dy": 7}, "encoding": {"x": {"datum": 94.2}, "y": {"datum": 59}, "text": {"field": "p2"}}},
   {"transform": [{"filter": "datum.k=='T'"}], "mark": {"type": "text", "font": "Open Sans", "fontSize": 25, "align": "left", "color": "#111", "dx": 32}, "encoding": {"x": {"datum": 94.2}, "y": {"datum": 59}, "text": {"field": "p3"}}},
   {"transform": [{"filter": "datum.k=='T' && datum.t==750"}], "mark": {"type": "point", "shape": "square", "filled": true, "size": 22, "color": "#000", "opacity": 1}, "encoding": {"x": {"datum": 25.7}, "y": {"datum": 119}}},
   {"transform": [{"filter": "datum.k=='T' && datum.t==750"}], "mark": {"type": "text", "fontSize": 15, "align": "left", "color": "#111"}, "encoding": {"x": {"datum": 28}, "y": {"datum": 119}, "text": {"value": "CNF"}}},
   {"transform": [{"filter": "datum.k=='T' && datum.t==750"}], "mark": {"type": "point", "shape": "circle", "filled": true, "size": 24, "color": "#ff1a1a", "opacity": 1}, "encoding": {"x": {"datum": 41.7}, "y": {"datum": 119}}},
   {"transform": [{"filter": "datum.k=='T' && datum.t==750"}], "mark": {"type": "text", "fontSize": 15, "align": "left", "color": "#ff1a1a"}, "encoding": {"x": {"datum": 44.5}, "y": {"datum": 119}, "text": {"value": "W"}}},
   {"transform": [{"filter": "datum.k=='T' && datum.t==750"}], "mark": {"type": "text", "fontSize": 15, "color": "#2f8f2f"}, "encoding": {"x": {"datum": 53.8}, "y": {"datum": 119}, "text": {"value": "◊"}}},
   {"transform": [{"filter": "datum.k=='T' && datum.t==750"}], "mark": {"type": "text", "fontSize": 15, "align": "left", "color": "#2f8f2f"}, "encoding": {"x": {"datum": 56.6}, "y": {"datum": 119}, "text": {"value": "W"}}},
   {"transform": [{"filter": "datum.k=='T' && datum.t==750"}], "mark": {"type": "text", "fontSize": 10, "align": "left", "color": "#2f8f2f", "dx": 15, "dy": 4}, "encoding": {"x": {"datum": 56.6}, "y": {"datum": 119}, "text": {"value": "2"}}},
   {"transform": [{"filter": "datum.k=='T' && datum.t==750"}], "mark": {"type": "text", "fontSize": 15, "align": "left", "color": "#2f8f2f", "dx": 21}, "encoding": {"x": {"datum": 56.6}, "y": {"datum": 119}, "text": {"value": "C"}}}
  ]
 }
}
]
}
